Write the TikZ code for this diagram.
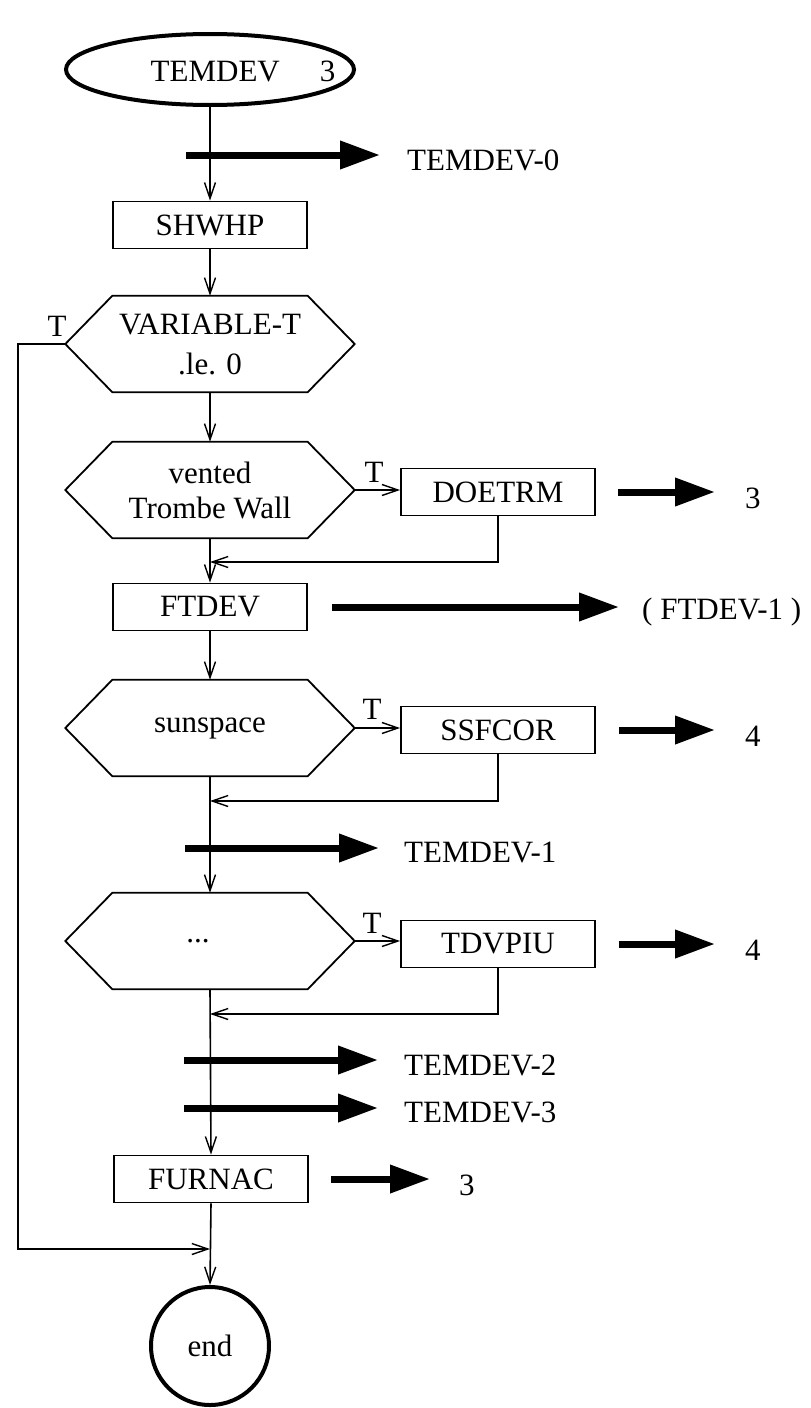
\documentclass[tikz,border=0pt]{standalone}
\usepackage{fontspec}
\setmainfont{Liberation Serif}
\usetikzlibrary{arrows.meta,shapes.geometric,calc}
\newcommand\hexdraw[1]{%
  \coordinate (#1r) at ($(#1.east)+(47,0)$);
  \coordinate (#1l) at ($(#1.west)+(-47,0)$);
  \draw[hexline] (#1.north west) -- (#1.north east) -- (#1r) -- (#1.south east)
     -- (#1.south west) -- (#1l) -- cycle;}
\begin{document}
\begin{tikzpicture}[x=1pt,y=-1pt,
  font=\fontsize{31}{35}\selectfont,
  box/.style={draw, line width=1.8pt, minimum width=194pt, minimum height=47pt, inner sep=0pt},
  hexin/.style={minimum width=195pt, minimum height=96pt, inner sep=0pt, align=center},
  hexline/.style={line width=1.8pt, line join=miter},
  flow/.style={line width=1.6pt, -{Straight Barb[length=16pt,width=11pt,line width=1.4pt]}},
  fat/.style={line width=7pt, -{Triangle[length=40pt,width=27pt]}},
  lab/.style={inner sep=0pt, anchor=west},
  term/.style={draw, line width=4pt, inner sep=0pt}]
\useasboundingbox (0,0) rectangle (811,1408);

% nodes
\node[term, ellipse, minimum width=288pt, minimum height=71pt] (start) at (210,69.5) {};
\node[inner sep=0pt] (starttxt) at (243,71) {TEMDEV\hspace{40pt}3};
\node[box] (shwhp) at (210,225) {SHWHP};
\node[hexin] (h1) at (210,344) {VARIABLE-T\\[5pt].le. 0};
\node[hexin] (h2) at (210,490) {vented\\Trombe Wall};
\node[box] (doetrm) at (498,492) {DOETRM};
\node[box] (ftdev) at (210,607) {FTDEV};
\node[hexin] (h3) at (210,728) {sunspace};
\node[box] (ssfcor) at (498,730) {SSFCOR};
\node[hexin] (h4) at (210,941) {...\hspace{24pt}};
\node[box] (tdvpiu) at (498,944) {TDVPIU};
\node[box] (furnac) at (211,1179) {FURNAC};
\node[term, circle, minimum size=118pt] (end) at (210,1346) {end};

\hexdraw{h1}
\hexdraw{h2}
\hexdraw{h3}
\hexdraw{h4}

% T labels
\node (t1) at (57,326) {T};
\node (t2) at (374,472) {T};
\node (t3) at (372,709) {T};
\node (t4) at (372,923) {T};

% output labels
\node[lab] (l0) at (407,160) {TEMDEV-0};
\node[lab] (l3a) at (745,498) {3};
\node[lab] (lf1) at (642,612) {( FTDEV-1 )};
\node[lab] (l4a) at (745,736) {4};
\node[lab] (l1) at (404,852) {TEMDEV-1};
\node[lab] (l4b) at (745,950) {4};
\node[lab] (l2) at (404,1065) {TEMDEV-2};
\node[lab] (lt3) at (404,1112) {TEMDEV-3};
\node[lab] (l3b) at (459,1185) {3};

% coordinates
\coordinate (a0) at (186,155);
\coordinate (a1) at (185,848);
\coordinate (a2) at (184,1060);
\coordinate (a3) at (184,1108);
\coordinate (j1) at (210,562);
\coordinate (j2) at (210,801);
\coordinate (j3) at (210,1014);
\coordinate (lt) at (18,344);
\coordinate (lb) at (18,1249);
\coordinate (j4) at (210,1249);

% main flow
\draw[flow] (start.south) -- (shwhp.north);
\draw[flow] (shwhp.south) -- (h1.north);
\draw[flow] (h1.south) -- (h2.north);
\draw[flow] (h2.south) -- (ftdev.north);
\draw[flow] (ftdev.south) -- (h3.north);
\draw[flow] (h3.south) -- (h4.north);
\draw[flow] (h4.south) -- (furnac.north);
\draw[flow] (furnac.south) -- (end.north);

% true branches
\draw[flow] (h2r) -- (h2r -| doetrm.west);
\draw[flow] (h3r) -- (h3r -| ssfcor.west);
\draw[flow] (h4r) -- (h4r -| tdvpiu.west);

% returns
\draw[flow] (doetrm.south) |- (j1);
\draw[flow] (ssfcor.south) |- (j2);
\draw[flow] (tdvpiu.south) |- (j3);
\draw[flow] (h1l) -- (lt) -- (lb) -- (j4);

% thick arrows
\draw[fat, shorten >=27pt] (a0) -- (a0 -| l0.west);
\draw[fat, shorten <=22pt, shorten >=30pt] (doetrm.east) -- (doetrm.east -| l3a.west);
\draw[fat, shorten <=24pt, shorten >=23pt] (ftdev.east) -- (ftdev.east -| lf1.west);
\draw[fat, shorten <=23pt, shorten >=30pt] (ssfcor.east) -- (ssfcor.east -| l4a.west);
\draw[fat, shorten >=25pt] (a1) -- (a1 -| l1.west);
\draw[fat, shorten <=23pt, shorten >=30pt] (tdvpiu.east) -- (tdvpiu.east -| l4b.west);
\draw[fat, shorten >=26pt] (a2) -- (a2 -| l2.west);
\draw[fat, shorten >=26pt] (a3) -- (a3 -| lt3.west);
\draw[fat, shorten <=22pt, shorten >=29pt] (furnac.east) -- (furnac.east -| l3b.west);
\end{tikzpicture}
\end{document}
